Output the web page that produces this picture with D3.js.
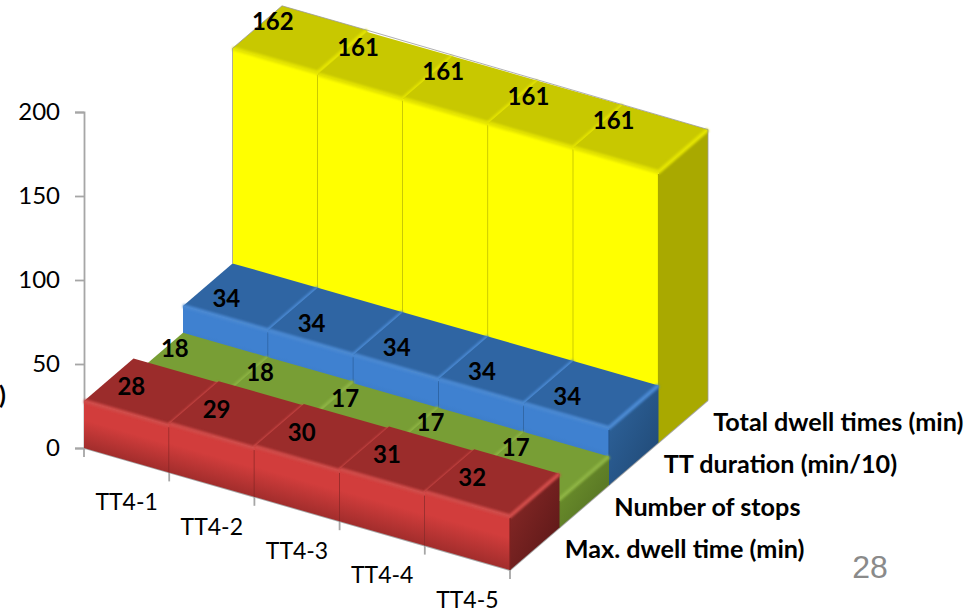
<!DOCTYPE html>
<html>
<head>
<meta charset="utf-8">
<script src="https://cdn.jsdelivr.net/npm/d3@7"></script>
<style>
body { margin: 0; background: #fff; }
text { font-family: Lato, "Open Sans", sans-serif; fill: #000; }
.axis-label { font-size: 23px; }
.tick-label { font-size: 24px; }
.series-label { font-size: 25.2px; font-weight: 700; }
.value-label { font-size: 24px; font-weight: 700; text-anchor: middle; }
</style>
</head>
<body>
<div id="container"></div>
<script>
// Chart data
var categories = ["TT4-1", "TT4-2", "TT4-3", "TT4-4", "TT4-5"];
var seriesNames = ["Max. dwell time (min)", "Number of stops", "TT duration (min/10)", "Total dwell times (min)"];
var maxDwell = [28, 29, 30, 31, 32];
var numStops = [18, 18, 17, 17, 17];
var ttDuration = [34, 34, 34, 34, 34];
var totalDwell = [162, 161, 161, 161, 161];
var yTicks = [0, 50, 100, 150, 200];
var seriesValues = [maxDwell, numStops, ttDuration, totalDwell];

// Colours per series: front top/bottom, top face, bevel, seam, side top/bottom
var palette = [
    { front: ["#d23d3c", "#a22d2c"], top: "#9b2c2b", bevel: "#d04b48", seam: "#7d2221", side: ["#8c2a28", "#571616"] },
    { front: ["#8cb43f", "#7a9f35"], top: "#789e35", bevel: "#8db343", seam: "#5f7f28", side: ["#73982f", "#4f6b20"] },
    { front: ["#3f81d0", "#2f6db3"], top: "#2f65a3", bevel: "#4a88d2", seam: "#24568f", side: ["#2f659f", "#1f4772"] },
    { front: ["#ffff00", "#ffff00"], top: "#c8c800", bevel: "#e4e400", seam: "#a8a800", side: ["#a9a900", "#a9a900"] }
];
// Data label nudges per series, from the top face centre
var labelShift = [[-20, -5], [-26, -18], [-24, 2], [-27, -18]];

var width = 975,
    height = 611;

var svg = d3.select("#container")
    .append("svg")
    .attr("width", width)
    .attr("height", height)
    .style("display", "block");

var defs = svg.append("defs");
defs.append("filter")
    .attr("id", "soft")
    .append("feGaussianBlur")
    .attr("stdDeviation", 1.1);

// Oblique projection: category runs down-right, series runs up-right, value runs up
var catX = d3.scaleLinear().domain([0, 5]).range([0, 426]);
var catY = d3.scaleLinear().domain([0, 5]).range([0, 122]);
var depthX = d3.scaleLinear().domain([0, 4]).range([0, 198]);
var depthY = d3.scaleLinear().domain([0, 4]).range([0, -170]);
var valueY = d3.scaleLinear().domain([0, 200]).range([448, 112]);

function project(c, s, v) {
    return [84 + catX(c) + depthX(s), valueY(v) + catY(c) + depthY(s)];
}
function poly(points) {
    return points.map(function(p) { return p.join(","); }).join(" ");
}

// Axes
var grey = "#a6a6a6";
var yAxis = d3.axisLeft(valueY).tickValues(yTicks).tickSize(9).tickPadding(15);
var yG = svg.append("g").attr("transform", "translate(84,0)").call(yAxis);
yG.select(".domain").attr("stroke", grey).attr("stroke-width", 1.8);
yG.selectAll(".tick line").attr("stroke", grey).attr("stroke-width", 1.8);
yG.selectAll(".tick text").attr("class", "tick-label");
yG.attr("font-family", null).attr("font-size", null);

var xStart = project(0, 0, 0), xEnd = project(5, 0, 0), zEnd = project(5, 4, 0);
svg.append("polyline")
    .attr("points", poly([xStart, xEnd, zEnd]))
    .attr("fill", "none")
    .attr("stroke", grey)
    .attr("stroke-width", 1.8);

svg.selectAll(".xtick")
    .data(d3.range(0, 6))
    .enter()
    .append("line")
    .attr("class", "xtick")
    .attr("x1", function(d) { return project(d, 0, 0)[0]; })
    .attr("y1", function(d) { return project(d, 0, 0)[1]; })
    .attr("x2", function(d) { return project(d, 0, 0)[0]; })
    .attr("y2", function(d) { return project(d, 0, 0)[1] + 9; })
    .attr("stroke", grey)
    .attr("stroke-width", 1.8);

// Bars, far series first, left to right
d3.range(3, -1, -1).forEach(function(s) {
    var pal = palette[s];

    var sideId = "side" + s;
    var sideGrad = defs.append("linearGradient")
        .attr("id", sideId)
        .attr("x1", 0).attr("y1", 0).attr("x2", 1).attr("y2", 1);
    sideGrad.append("stop").attr("offset", "0%").attr("stop-color", pal.side[0]);
    sideGrad.append("stop").attr("offset", "100%").attr("stop-color", pal.side[1]);

    seriesValues[s].forEach(function(v, c) {
        var a = project(c, s, v),        // front left top
            b = project(c + 1, s, v),    // front right top
            e = project(c + 1, s + 1, v),// back right top
            f = project(c, s + 1, v),    // back left top
            a0 = project(c, s, 0),
            b0 = project(c + 1, s, 0),
            e0 = project(c + 1, s + 1, 0);

        // Front gradient runs square to the slanted top edge
        var ex = b[0] - a[0], ey = b[1] - a[1], el = Math.hypot(ex, ey);
        var nx = -ey / el, ny = ex / el, run = (a0[1] - a[1]) * ny;
        var frontId = "front" + s + "_" + c;
        var frontGrad = defs.append("linearGradient")
            .attr("id", frontId)
            .attr("gradientUnits", "userSpaceOnUse")
            .attr("x1", a[0]).attr("y1", a[1])
            .attr("x2", a[0] + nx * run).attr("y2", a[1] + ny * run);
        frontGrad.append("stop").attr("offset", "0%").attr("stop-color", pal.front[0]);
        frontGrad.append("stop").attr("offset", "40%").attr("stop-color", pal.front[0]);
        frontGrad.append("stop").attr("offset", "100%").attr("stop-color", pal.front[1]);

        var bar = svg.append("g").attr("class", "bar");
        bar.append("polygon").attr("points", poly([b, e, e0, b0])).attr("fill", "url(#" + sideId + ")");
        bar.append("polygon").attr("points", poly([a, b, b0, a0])).attr("fill", "url(#" + frontId + ")");
        bar.append("polygon").attr("points", poly([a, b, e, f])).attr("fill", pal.top);

        // Soft bevels along the top edges, darker seam on the right of the front
        bar.append("polyline")
            .attr("points", poly([a, b, e]))
            .attr("fill", "none")
            .attr("stroke", pal.bevel)
            .attr("stroke-width", 4)
            .attr("filter", "url(#soft)");
        bar.append("line")
            .attr("x1", b[0]).attr("y1", b[1] + 2)
            .attr("x2", b0[0]).attr("y2", b0[1])
            .attr("stroke", pal.seam)
            .attr("stroke-width", 1.2);
    });

    // Thin grey edge around the back of the tall series
    if (s === 3) {
        svg.append("polyline")
            .attr("points", poly([project(0, 3, 34), project(0, 3, 162), project(0, 4, 162), project(1, 4, 162), project(5, 4, 161), project(5, 4, 0)]))
            .attr("fill", "none")
            .attr("stroke", "#9a9a9a")
            .attr("stroke-width", 0.8);
    }
});

// Value labels on the top faces
seriesValues.forEach(function(values, s) {
    svg.selectAll(".value" + s)
        .data(values)
        .enter()
        .append("text")
        .attr("class", "value-label value" + s)
        .attr("x", function(d, c) { return project(c + 0.5, s + 0.5, d)[0] + labelShift[s][0]; })
        .attr("y", function(d, c) { return project(c + 0.5, s + 0.5, d)[1] + labelShift[s][1]; })
        .attr("dy", "0.35em")
        .text(function(d) { return d; });
});

// Category labels
svg.selectAll(".cat")
    .data(categories)
    .enter()
    .append("text")
    .attr("class", "axis-label cat")
    .attr("text-anchor", "middle")
    .attr("x", function(d, i) { return project(i + 0.5, 0, 0)[0]; })
    .attr("y", function(d, i) { return project(i + 0.5, 0, 0)[1] + 42; })
    .attr("dy", "0.35em")
    .text(function(d) { return d; });

// Series labels beside the depth axis
svg.selectAll(".series-label.name")
    .data(seriesNames)
    .enter()
    .append("text")
    .attr("class", "series-label name")
    .attr("x", function(d, i) { return project(5, i + 0.5, 0)[0] + 30; })
    .attr("y", function(d, i) { return project(5, i + 0.5, 0)[1] + 0.5; })
    .attr("dy", "0.35em")
    .text(function(d) { return d; });

// Axis title cut off by the left edge, only its closing bracket shows
svg.append("text")
    .attr("class", "series-label")
    .attr("x", 6)
    .attr("y", 395)
    .attr("dy", "0.35em")
    .attr("text-anchor", "end")
    .text(")");

// Slide number
svg.append("text")
    .attr("x", 870)
    .attr("y", 578)
    .attr("text-anchor", "middle")
    .style("font-family", "'Liberation Sans', Arial, sans-serif")
    .style("font-size", "32px")
    .style("fill", "#8a8a8a")
    .text("28");
</script>
</body>
</html>
